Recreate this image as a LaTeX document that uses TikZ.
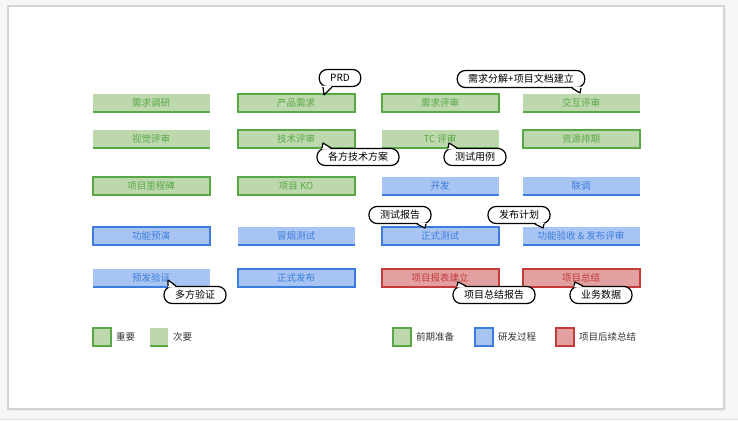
\documentclass[tikz,border=0pt]{standalone}
\usepackage{fontspec}
\setmainfont{Noto Sans CJK SC}
\usetikzlibrary{calc,positioning}
\definecolor{fillg}{RGB}{189,216,173}
\definecolor{lineg}{RGB}{88,168,70}
\definecolor{fillb}{RGB}{168,196,242}
\definecolor{lineb}{RGB}{59,125,221}
\definecolor{fillr}{RGB}{226,160,160}
\definecolor{liner}{RGB}{197,58,58}
\definecolor{pagebg}{RGB}{245,246,248}
\definecolor{pageline}{RGB}{212,212,212}
\definecolor{legendtext}{RGB}{51,51,51}
\begin{document}
\begin{tikzpicture}[x=1pt, y=-1pt,
		tile/.style 2 args={fill=fill#1, draw=line#1, text=line#1, draw opacity=#2,
			line width=2pt, inner sep=0pt, outer sep=0pt, font=\fontsize{9.5}{11}\selectfont},
		box/.style={minimum width=117pt, minimum height=18pt},
		swatch/.style={minimum width=18pt, minimum height=18pt},
		bubble/.style={draw=black, fill=white, line width=1.2pt, rounded corners=8pt,
			minimum height=17pt, inner xsep=11pt, inner ysep=0pt, font=\fontsize{10}{12}\selectfont},
		tail/.style={line width=1.2pt, line join=round}]
	\useasboundingbox (0,0) rectangle (738,420);
	\fill[pagebg] (0,0) rectangle (738,420);
	\draw[pageline!70, line width=0.8pt] (0,419.5) -- (738,419.5);
	\fill[pageline!50] (10,8) rectangle (726,411);
	\draw[pageline, line width=1.5pt, fill=white] (8,6) rectangle (724,409);
	% task boxes: column / row / colour / border shown / text
	\foreach \col/\row/\hue/\op/\label in {
			1/1/g/0/需求调研, 2/1/g/1/产品需求, 3/1/g/1/需求评审, 4/1/g/0/交互评审,
			1/2/g/0/视觉评审, 2/2/g/1/技术评审, 3/2/g/0/TC 评审, 4/2/g/1/资源排期,
			1/3/g/1/项目里程碑, 2/3/g/1/项目 KO, 3/3/b/0/开发, 4/3/b/0/联调,
			1/4/b/1/功能预演, 2/4/b/0/冒烟测试, 3/4/b/1/正式测试, 4/4/b/0/功能验收 \& 发布评审,
			1/5/b/0/预发验证, 2/5/b/1/正式发布, 3/5/r/1/项目报表建立, 4/5/r/1/项目总结}{
			\pgfmathsetmacro\bx{{151,296,440,581}[\col-1]}
			\pgfmathsetmacro\by{{103,139,186,236,278}[\row-1]}
			\node[tile={\hue}{\op}, box] (b\col\row) at (\bx, \by) {\label};
			\draw[line\hue, line width=1.3pt] (b\col\row.south west) -- (b\col\row.south east);
		}
	% where the notes point
	\coordinate (t1) at ($(b21.north)+(28,1)$);
	\coordinate (t2) at ($(b41.north)+(-1,-1)$);
	\coordinate (t3) at ($(b22.center)+(27,4)$);
	\coordinate (t4) at ($(b32.center)+(9,4)$);
	\coordinate (t5) at ($(b34.north)+(-15,1)$);
	\coordinate (t6) at ($(b44.north)+(-38,1)$);
	\coordinate (t7) at ($(b15.center)+(17,2)$);
	\coordinate (t8) at ($(b35.center)+(18,4)$);
	\coordinate (t9) at ($(b45.center)+(-6,4)$);
	% notes: centre / side of the tail / tail base / text
	\foreach \x/\y/\side/\d/\a/\b/\note [count = \i] in {
			340/78/south/-1.5/-1/8/PRD, 521/79/south/-1.5/-8/1/需求分解+项目文档建立,
			358/157/north/1.5/-1/8/各方技术方案, 475/157/north/1.5/-1/8/测试用例,
			400/215/south/-1.5/-8/1/测试报告, 519/215/south/-1.5/-8/1/发布计划,
			195/295/north/1.5/0/8/多方验证, 494/295/north/1.5/-1/8/项目总结报告,
			601/295/north/1.5/-1/8/业务数据}{
			\node[bubble] (c\i) at (\x, \y) {\note};
			\fill[white] ($(t\i |- c\i.\side)+(\a,\d)$) -- (t\i) -- ($(t\i |- c\i.\side)+(\b,\d)$) -- cycle;
			\draw[tail] ($(t\i |- c\i.\side)+(\a,0)$) -- (t\i) -- ($(t\i |- c\i.\side)+(\b,0)$);
		}
	% legend
	\foreach \x/\hue/\op/\label [count = \i] in {
			102/g/1/重要, 159/g/0/次要, 402/g/1/前期准备, 484/b/1/研发过程, 565/r/1/项目后续总结}{
			\node[tile={\hue}{\op}, swatch] (l\i) at (\x, 337) {};
			\draw[line\hue, line width=1.3pt] (l\i.south west) -- (l\i.south east);
			\node[right=5pt of l\i, inner sep=0pt, text=legendtext, font=\fontsize{9.5}{11}\selectfont] (n\i) {\label};
		}
\end{tikzpicture}
\end{document}
